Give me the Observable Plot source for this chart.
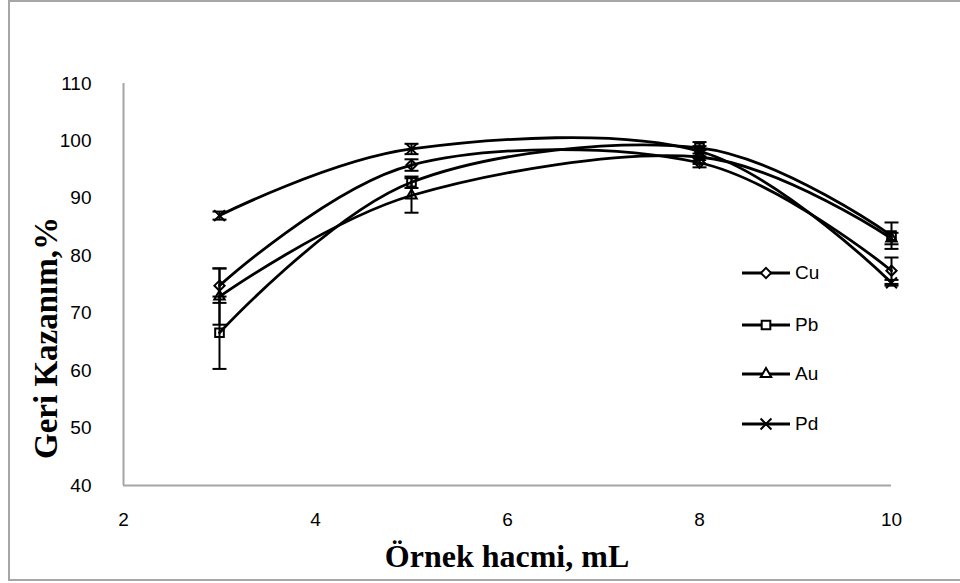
<!DOCTYPE html>
<html>
<head>
<meta charset="utf-8">
<script src="https://cdn.jsdelivr.net/npm/d3@7"></script>
<script src="https://cdn.jsdelivr.net/npm/@observablehq/plot@0.6"></script>
<style>
  html, body { margin: 0; padding: 0; background: #fff; overflow: hidden; }
  #wrap { position: relative; width: 960px; height: 583px; overflow: hidden; }
  #border { position: absolute; left: 8px; top: 0; width: 1000px; height: 577px;
            border-left: 2px solid #a6a6a6; border-top: 2px solid #a6a6a6; border-bottom: 2px solid #a6a6a6; box-sizing: content-box; }
  #chart { position: absolute; left: 0; top: 0; }
  #legend { position: absolute; left: 742px; top: 0; font-family: "Liberation Sans", Arial, sans-serif; font-size: 19px; color: #000; }
  .row { position: absolute; left: 0; display: flex; align-items: center; white-space: nowrap; }
  .row svg { display: block; }
  .row span { margin-left: 5px; }
  #ytitle { position: absolute; left: 46px; top: 338px; transform: translate(-50%, -50%) rotate(-90deg);
            font-family: "Liberation Serif", "Times New Roman", serif; font-weight: bold; font-size: 33px; white-space: nowrap; }
  #xtitle { position: absolute; left: 507px; top: 556px; transform: translate(-50%, -50%);
            font-family: "Liberation Serif", "Times New Roman", serif; font-weight: bold; font-size: 32px; white-space: nowrap; }
</style>
</head>
<body>
<div id="wrap">
  <div id="border"></div>
  <div id="chart"></div>
  <div id="ytitle"></div>
  <div id="xtitle"></div>
  <div id="legend"></div>
</div>
<script>
// ---- data ----
const volumes = [3, 5, 8, 10];
const metals = ["Cu", "Pb", "Au", "Pd"];
const cuValues = [74.8, 95.8, 96.2, 77.4];
const pbValues = [66.6, 92.8, 98.8, 83.5];
const auValues = [72.9, 90.5, 97.2, 83.0];
const pdValues = [87.0, 98.6, 98.2, 75.3];
const cuErrors = [3.0, 1.0, 0.8, 2.3];
const pbErrors = [6.3, 1.0, 1.0, 2.3];
const auErrors = [4.9, 3.0, 1.2, 1.0];
const pdErrors = [0.7, 0.9, 0.9, 0.5];
const xTicks = [2, 4, 6, 8, 10];
const yTicks = [40, 50, 60, 70, 80, 90, 100, 110];
const xTitle = "Örnek hacmi, mL";
const yTitle = "Geri Kazanım,%";

// ---- build table ----
const seriesValues = { Cu: cuValues, Pb: pbValues, Au: auValues, Pd: pdValues };
const seriesErrors = { Cu: cuErrors, Pb: pbErrors, Au: auErrors, Pd: pdErrors };
const rows = [];
for (const m of metals) {
  volumes.forEach((v, i) => rows.push({ metal: m, x: v, y: seriesValues[m][i], e: seriesErrors[m][i] }));
}
const symbolOf = { Cu: "diamond2", Pb: "square2", Au: "triangle2", Pd: "times" };
const rOf = { Cu: 4.6, Pb: 5.5, Au: 5.0, Pd: 5.0 };

const cap = { draw(ctx, size) { const r = 7; ctx.moveTo(-r, 0); ctx.lineTo(r, 0); } };

const marks = [
  Plot.ruleX([2], { stroke: "#a6a6a6", strokeWidth: 2 }),
  Plot.ruleY([40], { stroke: "#a6a6a6", strokeWidth: 2 }),
  Plot.ruleX(rows, { x: "x", y1: d => d.y - d.e, y2: d => d.y + d.e, stroke: "#000", strokeWidth: 2 }),
  Plot.dot(rows, { x: "x", y: d => d.y - d.e, symbol: cap, r: 7, stroke: "#000", strokeWidth: 2 }),
  Plot.dot(rows, { x: "x", y: d => d.y + d.e, symbol: cap, r: 7, stroke: "#000", strokeWidth: 2 }),
  Plot.line(rows, { x: "x", y: "y", z: "metal", curve: "cardinal", tension: 0, stroke: "#000", strokeWidth: 2.8 })
];
for (const m of metals) {
  marks.push(Plot.dot(rows.filter(d => d.metal === m), { x: "x", y: "y", symbol: symbolOf[m], r: rOf[m], stroke: "#000", strokeWidth: 2, fill: "none" }));
}
marks.push(
  Plot.axisX(xTicks, { tickSize: 0, tickPadding: 27, fontSize: 19, label: null }),
  Plot.axisY(yTicks, { tickSize: 0, tickPadding: 32, fontSize: 19, label: null })
);

const chart = Plot.plot({
  width: 960,
  height: 583,
  marginLeft: 123,
  marginRight: 69,
  marginTop: 83,
  marginBottom: 98,
  x: { domain: [2, 10] },
  y: { domain: [40, 110] },
  style: { fontFamily: "'Liberation Sans', Arial, sans-serif", color: "#000", background: "transparent" },
  marks
});
document.getElementById("chart").appendChild(chart);
document.getElementById("ytitle").textContent = yTitle;
document.getElementById("xtitle").textContent = xTitle;

// ---- legend ----
const legendTops = [273, 325, 374, 424];
const leg = document.getElementById("legend");
metals.forEach((m, i) => {
  const row = document.createElement("div");
  row.className = "row";
  row.style.top = (legendTops[i] - 12) + "px";
  row.style.height = "24px";
  const svg = d3.create("svg").attr("width", 48).attr("height", 24);
  svg.append("line").attr("x1", 0).attr("x2", 48).attr("y1", 12).attr("y2", 12).attr("stroke", "#000").attr("stroke-width", 2.8);
  const symType = { Cu: d3.symbolDiamond2, Pb: d3.symbolSquare2, Au: d3.symbolTriangle2, Pd: d3.symbolTimes }[m];
  const r = rOf[m];
  svg.append("path").attr("transform", "translate(24,12)")
    .attr("d", d3.symbol(symType, Math.PI * r * r)())
    .attr("fill", "#fff").attr("stroke", "#000").attr("stroke-width", 2);
  row.appendChild(svg.node());
  const t = document.createElement("span");
  t.textContent = m;
  row.appendChild(t);
  leg.appendChild(row);
});
</script>
</body>
</html>
